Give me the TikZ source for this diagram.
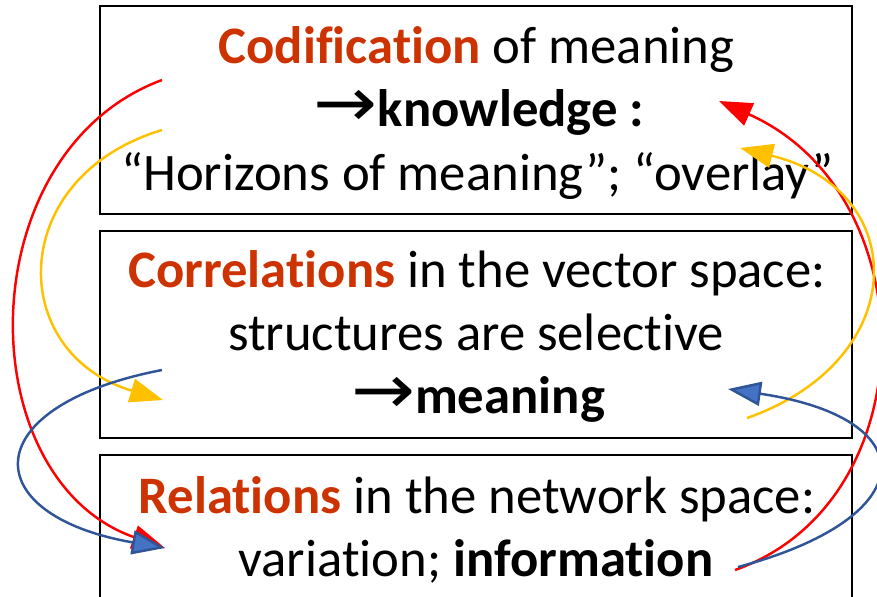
\documentclass[tikz,border=0pt]{standalone}
\usepackage{fontspec}
\setmainfont{Carlito}[Ligatures=NoCommon]
\newfontfamily\flechafont{DejaVu Sans}
\usetikzlibrary{arrows.meta}
\definecolor{realce}{HTML}{CC3300}
\definecolor{rojo}{HTML}{FF0000}
\definecolor{ambar}{HTML}{FFC000}
\definecolor{azul}{HTML}{2F5597}
\definecolor{azulclaro}{HTML}{4472C4}
\definecolor{tinta}{HTML}{000000}
\tikzset{
  caja/.style={draw=tinta,line width=0.8pt},
  linea/.style={font=\fontsize{30}{36}\selectfont,text=tinta,anchor=base,inner sep=0pt},
  curva/.style={line width=1.4pt},
  curvaroja/.style={curva,draw=rojo,-{Triangle[length=6.6mm,width=4.8mm]}},
  curvaambar/.style={curva,draw=ambar,-{Triangle[length=6.6mm,width=4.8mm]}},
  curvaazul/.style={curva,draw=azul,-{Triangle[length=6.6mm,width=4.8mm,fill=azulclaro]}},
}
\newcommand{\flecha}{\scalebox{1.45}[1.3]{\flechafont →}}

\begin{document}
\begin{tikzpicture}[x=0.02cm,y=-0.02cm]
  \useasboundingbox (0,0) rectangle (877,596);
  \clip (0,0) rectangle (877,596);
  % cajas
  \draw[caja] (100,6) rectangle (852,214);
  \draw[caja] (100,231) rectangle (852,438);
  \draw[caja] (100,455) rectangle (852,620);
  % textos
  \node[linea] (codif) at (476.5,63) {\textcolor{realce}{\textbf{Codification}} of meaning};
  \node[linea] (conoc) at (479,126.5) {\flecha\textbf{knowledge :}};
  \node[linea] (horiz) at (477.5,190) {“Horizons of meaning”; “overlay”};
  \node[linea] (correl) at (477,287) {\textcolor{realce}{\textbf{Correlations}} in the vector space:};
  \node[linea] (estruc) at (476,350) {structures are selective};
  \node[linea] (signif) at (478,413) {\flecha\textbf{meaning}};
  \node[linea] (relac) at (477,513) {\textcolor{realce}{\textbf{Relations}} in the network space:};
  \node[linea] (varia) at (476,576) {variation; \textbf{information}};
  % extremos de las curvas
  \coordinate (ra) at (162,80);   \coordinate (rb) at (165,548);
  \coordinate (rc) at (735,570);  \coordinate (rd) at (719,101);
  \coordinate (aa) at (162,130);  \coordinate (ab) at (163,400);
  \coordinate (ac) at (747,418);  \coordinate (ad) at (740,148);
  \coordinate (za) at (162,370);  \coordinate (zb) at (165,548);
  \coordinate (zc) at (738,567);  \coordinate (zd) at (728,389);
  % curvas
  \draw[curvaroja] (ra) .. controls (-32,152) and (-32,479) .. (rb);
  \draw[curvaroja] (rc) .. controls (928,502) and (928,194) .. (rd);
  \draw[curvaambar] (aa) .. controls (6,177) and (6,353) .. (ab);
  \draw[curvaambar] (ac) .. controls (912,360) and (912,190) .. (ad);
  \draw[curvaazul] (za) .. controls (-25,406) and (-25,515) .. (zb);
  \draw[curvaazul] (zc) .. controls (925,517) and (925,418) .. (zd);
\end{tikzpicture}
\end{document}
